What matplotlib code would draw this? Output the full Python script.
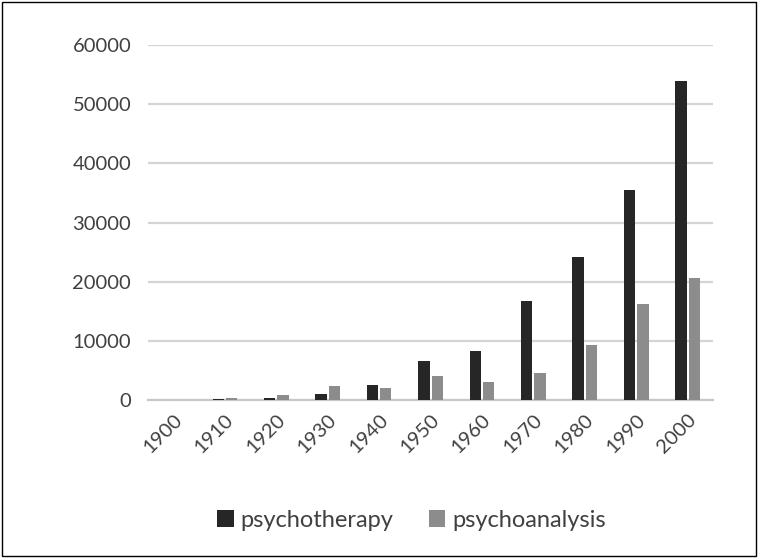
import numpy as np
import matplotlib
matplotlib.use('Agg')
import matplotlib.pyplot as plt
from matplotlib.patches import Rectangle

plt.rcParams['font.family'] = ['Lato', 'DejaVu Sans']

# data
years = ['1900', '1910', '1920', '1930', '1940', '1950',
         '1960', '1970', '1980', '1990', '2000']
psychotherapy = [0, 250, 400, 1000, 2500, 6600, 8300, 16700, 24200, 35500, 53900]
psychoanalysis = [0, 300, 900, 2400, 2000, 4000, 3100, 4500, 9300, 16300, 20700]

fig = plt.figure(figsize=(7.58, 5.58), dpi=100)
ax = fig.add_axes([0.195, 0.283, 0.746, 0.636])

x = np.arange(len(years))
w = 0.22
ax.bar(x - 0.13, psychotherapy, w, color='#262626', label='psychotherapy', zorder=3)
ax.bar(x + 0.13, psychoanalysis, w, color='#8c8c8c', label='psychoanalysis', zorder=3)

ax.set_xlim(-0.5, len(years) - 0.5)
ax.set_ylim(0, 60000)
ax.set_yticks(range(0, 60001, 10000))
ax.yaxis.grid(True, color='#d4d4d4', linewidth=1.6, zorder=0)
ax.set_axisbelow(True)

for s in ['top', 'right', 'left']:
    ax.spines[s].set_visible(False)
ax.spines['bottom'].set_color('#c8c8c8')
ax.spines['bottom'].set_linewidth(1.6)

ax.tick_params(axis='both', length=0, labelsize=14.5, colors='#404040')
ax.tick_params(axis='y', pad=12)
ax.set_xticks(x)
ax.set_xticklabels(years, rotation=45, ha='right', rotation_mode='anchor')
ax.tick_params(axis='x', pad=8)

fig.legend(loc='center', bbox_to_anchor=(0.543, 0.068), ncol=2, frameon=False,
           fontsize=17, handlelength=0.7, handleheight=0.7,
           handletextpad=0.3, columnspacing=1.5, labelcolor='#404040')

# thin frame around the whole picture
fig.patches.append(Rectangle((0.003, 0.003), 0.994, 0.994, transform=fig.transFigure,
                             fill=False, edgecolor='black', linewidth=1))

fig.savefig('out.png', dpi=100)
